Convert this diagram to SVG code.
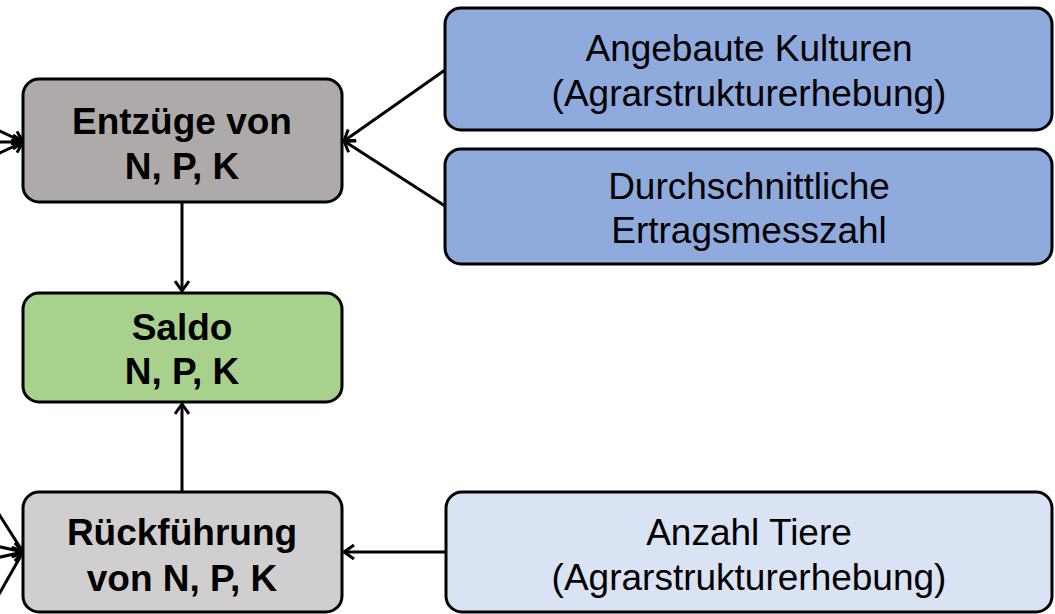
<svg xmlns="http://www.w3.org/2000/svg" width="1055" height="614" viewBox="0 0 1055 614">
<style>
.box{stroke:#000;stroke-width:3}
.tb{font-family:"Liberation Sans",Arial,sans-serif;font-weight:bold;font-size:37px;text-anchor:middle;fill:#000}
.tr{font-family:"Liberation Sans",Arial,sans-serif;font-size:37px;text-anchor:middle;fill:#000}
.c{stroke:#000;stroke-width:3;fill:none;marker-end:url(#ah)}
</style>
<defs>
<marker id="ah" markerWidth="14" markerHeight="16" refX="11" refY="8" orient="auto" markerUnits="userSpaceOnUse">
<path d="M1,1 L11,8 L1,15" fill="none" stroke="#000" stroke-width="3"/>
</marker>
</defs>
<rect width="1055" height="614" fill="#fff"/>
<g id="connectors">
<line class="c" x1="-40" y1="112" x2="23" y2="142"/>
<line class="c" x1="-40" y1="142" x2="23" y2="142"/>
<line class="c" x1="-40" y1="172" x2="23" y2="142"/>
<line class="c" x1="-10" y1="500" x2="23" y2="552"/>
<line class="c" x1="-40" y1="538" x2="23" y2="552"/>
<line class="c" x1="-40" y1="566" x2="23" y2="552"/>
<line class="c" x1="-10" y1="610" x2="23" y2="552"/>
<line class="c" x1="445" y1="70" x2="344" y2="141"/>
<line class="c" x1="445" y1="206" x2="344" y2="141"/>
<line class="c" x1="182" y1="202" x2="182" y2="291"/>
<line class="c" x1="182" y1="492" x2="182" y2="404"/>
<line class="c" x1="446" y1="552" x2="344" y2="552"/>
</g>
<g id="entzuege">
<rect class="box" x="23" y="79" width="319" height="123" rx="16" fill="#AEAAAA"/>
<text class="tb" x="182" y="134">Entzüge von</text>
<text class="tb" x="182" y="179">N, P, K</text>
</g>
<g id="saldo">
<rect class="box" x="23" y="293" width="319" height="109" rx="16" fill="#A9D18E"/>
<text class="tb" x="182" y="340">Saldo</text>
<text class="tb" x="182" y="384">N, P, K</text>
</g>
<g id="rueckfuehrung">
<rect class="box" x="23" y="492" width="319" height="120" rx="16" fill="#D0CECE"/>
<text class="tb" x="182" y="545">Rückführung</text>
<text class="tb" x="182" y="591">von N, P, K</text>
</g>
<g id="kulturen">
<rect class="box" x="445" y="8" width="607" height="122" rx="16" fill="#8FAADC"/>
<text class="tr" x="749" y="61">Angebaute Kulturen</text>
<text class="tr" x="749" y="106">(Agrarstrukturerhebung)</text>
</g>
<g id="ertragsmesszahl">
<rect class="box" x="445" y="149" width="607" height="115" rx="16" fill="#8FAADC"/>
<text class="tr" x="749" y="199">Durchschnittliche</text>
<text class="tr" x="749" y="243">Ertragsmesszahl</text>
</g>
<g id="tiere">
<rect class="box" x="446" y="492" width="606" height="120" rx="16" fill="#DAE3F3"/>
<text class="tr" x="749" y="545">Anzahl Tiere</text>
<text class="tr" x="749" y="590">(Agrarstrukturerhebung)</text>
</g>
</svg>
